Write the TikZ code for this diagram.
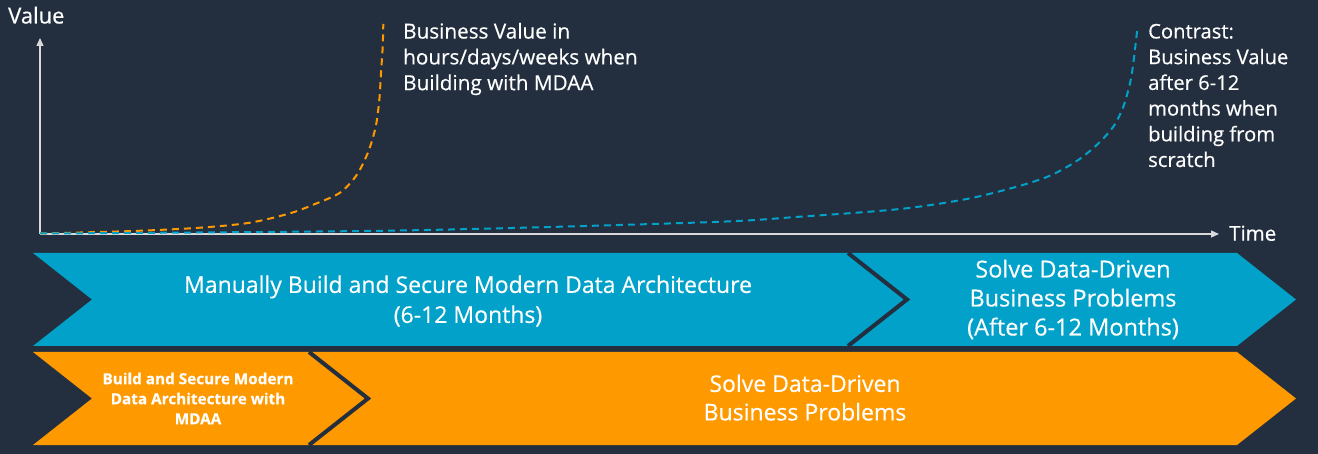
\documentclass[tikz,border=0pt]{standalone}
\usepackage{fontspec}
\setmainfont{Open Sans}[FakeBold=0.4]
\usetikzlibrary{arrows.meta}
\definecolor{bg}{HTML}{232F3E}
\definecolor{awsblue}{HTML}{01A1C9}
\definecolor{awsorange}{HTML}{FF9900}
\definecolor{axisgray}{HTML}{D9D9D9}
\newcommand{\mystrut}{\rule{0pt}{0.8em}}
\tikzset{
  axisline/.style={draw=axisgray, line width=1.3pt},
  curvebase/.style={line width=2pt, dash pattern=on 7pt off 5pt},
  sepline/.style={draw=bg, line width=4pt},
  lbl/.style={text=white, inner sep=0pt},
  bandtxt/.style={lbl, anchor=north, align=center},
}
\begin{document}
\begin{tikzpicture}[x=1pt,y=-1pt]
\fill[bg] (0,0) rectangle (1318,454);
\useasboundingbox (0,0) rectangle (1318,454);

% axes
\coordinate (O) at (40,234);
\coordinate (ytop) at (40,38);
\coordinate (xend) at (1219,234);
\draw[axisline, -{Triangle[width=7pt,length=8pt]}] (O) -- (ytop);
\draw[axisline, -{Triangle[width=7pt,length=8pt]}] (O) -- (xend);
\node[lbl, anchor=base west, font=\fontsize{22}{25}\selectfont] (value) at (8,23.5) {Value};
\node[lbl, anchor=base west, font=\fontsize{20.5}{25}\selectfont] (time) at (1229,240.7) {Time};

% curves
\draw[curvebase, awsorange] plot[smooth, tension=0.5] coordinates {(40,233.5) (133,231) (200,227.7) (250,222.7) (290,213.3) (315,204) (340,192.7) (356.7,175) (368.3,151.7) (375.7,126.7) (379.3,100) (381,73.3) (382.7,46.7) (383.3,24)};
\draw[curvebase, awsblue] plot[smooth, tension=0.5] coordinates {(40,233.5) (400,230.5) (705,222.3) (800,216.7) (900,209) (966.7,199) (1016.7,186.7) (1050,175.7) (1076.7,161) (1096.7,145) (1113.3,126.7) (1123.3,106.7) (1130,83.3) (1133.3,63.3) (1137.3,29.3)};

\node[lbl, anchor=north west, align=left, font=\fontsize{20.7}{25.8}\selectfont] (mdaalbl) at (403,21.8)
  {\mystrut Business Value in\\hours/days/weeks when\\Building with MDAA};
\node[lbl, anchor=north west, align=left, font=\fontsize{20.2}{25.7}\selectfont] (scratchlbl) at (1148,22.1)
  {\mystrut Contrast:\\Business Value\\after 6-12\\months when\\building from\\scratch};

% blue band
\fill[awsblue] (33,253) -- (1237,253) -- (1296,299.5) -- (1237,346) -- (33,346) -- (92,299.5) -- cycle;
\draw[sepline] (848,253) -- (907,299.5) -- (848,346);
% orange band
\fill[awsorange] (33,352) -- (1237,352) -- (1296,398.5) -- (1237,445) -- (33,445) -- (92,398.5) -- cycle;
\draw[sepline] (309,352) -- (368,398.5) -- (309,445);

\node[bandtxt, font=\fontsize{23}{30}\selectfont] (manual) at (468,274.3)
  {\mystrut Manually Build and Secure Modern Data Architecture\\(6-12 Months)};
\node[bandtxt, font=\fontsize{23.5}{29}\selectfont] (solveblue) at (1073,258.5)
  {\mystrut Solve Data-Driven\\Business Problems\\(After 6-12 Months)};
\node[bandtxt, font=\fontsize{15.3}{20}\selectfont\bfseries] (buildmdaa) at (198,371.8)
  {\mystrut Build and Secure Modern\\Data Architecture with\\MDAA};
\node[bandtxt, font=\fontsize{23}{28.5}\selectfont] (solveorange) at (805,373.3)
  {\mystrut Solve Data-Driven\\Business Problems};
\end{tikzpicture}
\end{document}
